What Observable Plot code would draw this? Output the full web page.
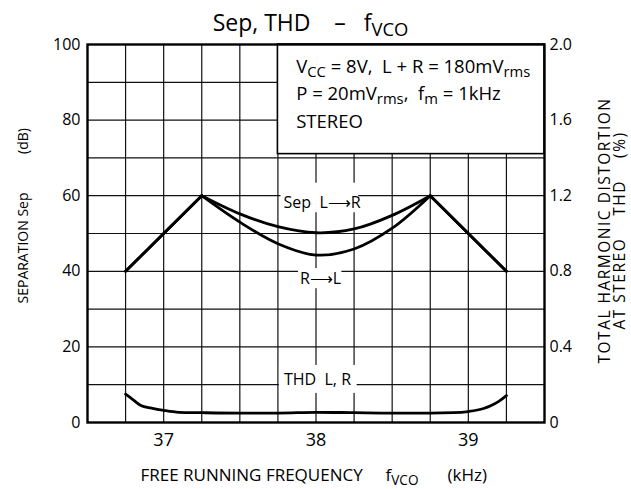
<!DOCTYPE html>
<html><head><meta charset="utf-8">
<script src="https://cdn.jsdelivr.net/npm/d3@7"></script>
<script src="https://cdn.jsdelivr.net/npm/@observablehq/plot@0.6"></script>
<style>
body{margin:0;background:#fff;}
#chart text{white-space:pre;}
</style></head><body><div id="chart"></div>
<script>
// ---- data ----
const sepFreq = [36.75, 37.0, 37.25, 37.5, 37.75, 38.0, 38.25, 38.5, 38.75, 39.0, 39.25];
const sepLR   = [40, 50, 60, 55.2, 51.8, 50.2, 51.2, 54.8, 60, 50, 40];
const sepRL   = [40, 50, 60, 53.0, 47.3, 44.3, 45.9, 51.4, 60, 50, 40];
const thdFreq = [36.75, 36.8, 36.85, 36.92, 37.0, 37.1, 37.25, 37.5, 37.75, 38.0, 38.25, 38.5, 38.75, 38.9, 39.0, 39.1, 39.15, 39.2, 39.25];
const thdPct  = [0.15, 0.12, 0.09, 0.076, 0.064, 0.054, 0.052, 0.05, 0.05, 0.054, 0.052, 0.05, 0.05, 0.052, 0.058, 0.074, 0.09, 0.112, 0.142];

const xGrid = [36.75, 37, 37.25, 37.5, 37.75, 38, 38.25, 38.5, 38.75, 39, 39.25];
const yGrid = [10, 20, 30, 40, 50, 60, 70, 80, 90];
const xTicks = [37, 38, 39];
const sepTicks = [0, 20, 40, 60, 80, 100];
const thdTickLabels = ["0", "0.4", "0.8", "1.2", "1.6", "2.0"];

const titleText = "Sep, THD    –   f_{VCO}";
const xLabelParts = ["FREE RUNNING FREQUENCY", "f_{VCO}", "(kHz)"];
const yLabelParts = ["SEPARATION Sep", "(dB)"];
const y2Label = ["TOTAL HARMONIC DISTORTION", "AT STEREO    THD    (%)"];
const boxLines = ["V_{CC} = 8V,  L + R = 180mV_{rms}", "P = 20mV_{rms},  f_{m} = 1kHz", "STEREO"];
const curveLabels = [
  {text: "Sep  L⟶R", x: 38.04, y: 58.2, bx1: 37.77, bx2: 38.28, by1: 55.5, by2: 63.3},
  {text: "R⟶L", x: 38.03, y: 38.0, bx1: 37.885, bx2: 38.17, by1: 35.4, by2: 40.7},
  {text: "THD  L, R", x: 38.01, y: 11.4, bx1: 37.76, bx2: 38.27, by1: 7.7, by2: 15.1}
];
const condBox = {x1: 37.75, x2: 39.5, y1: 71, y2: 100};

// ---- tables ----
const sepRows = [];
sepFreq.forEach((f, i) => {
  sepRows.push({f, v: sepLR[i], s: "LR"});
  sepRows.push({f, v: sepRL[i], s: "RL"});
});
const rampRows = [];
sepRows.forEach(r => { if (r.f <= 37.25) rampRows.push({...r, k: r.s + "L"}); if (r.f >= 38.75) rampRows.push({...r, k: r.s + "R"}); });
const midRows = sepRows.filter(r => r.f >= 37.25 && r.f <= 38.75);
const thdRows = thdFreq.map((f, i) => ({f, pct: thdPct[i]}));

const thdFmt = d => thdTickLabels[sepTicks.indexOf(d)];
const FONT = '"Open Sans", sans-serif';
const xLabelDx = [53, 298, 360];
const yLabelDy = [14.5, -92.5];

const plot = Plot.plot({
  width: 631, height: 489,
  marginLeft: 87, marginRight: 87, marginTop: 44, marginBottom: 67,
  x: {domain: [36.5, 39.5]},
  y: {domain: [0, 100]},
  style: {fontFamily: FONT, fontSize: "16px", color: "#000", background: "#fff", overflow: "visible"},
  marks: [
    Plot.ruleX(xGrid, {stroke: "#111", strokeWidth: 1.2}),
    Plot.ruleY(yGrid, {stroke: "#111", strokeWidth: 1.2}),
    Plot.rect([condBox], {x1: "x1", x2: "x2", y1: "y1", y2: "y2", fill: "white", stroke: "#000", strokeWidth: 1.6}),
    Plot.rect(curveLabels, {x1: "bx1", x2: "bx2", y1: "by1", y2: "by2", fill: "white"}),
    Plot.line(rampRows, {x: "f", y: "v", z: "k", stroke: "#000", strokeWidth: 2.8}),
    Plot.line(midRows, {x: "f", y: "v", z: "s", stroke: "#000", strokeWidth: 2.8, curve: "catmull-rom"}),
    Plot.line(thdRows, {x: "f", y: d => d.pct * 50, stroke: "#000", strokeWidth: 2.8, curve: "monotone-x"}),
    Plot.frame({stroke: "#000", strokeWidth: 2.4}),
    Plot.axisX({ticks: xTicks, tickSize: 0, tickPadding: 11, label: null, fontSize: 18, tickFormat: d => String(d)}),
    Plot.axisY({ticks: sepTicks, anchor: "left", tickSize: 0, tickPadding: 7, label: null, fontSize: 16}),
    Plot.axisY({ticks: sepTicks, anchor: "right", tickSize: 0, tickPadding: 5, label: null, fontSize: 16, tickFormat: thdFmt}),
    Plot.text(curveLabels, {x: "x", y: "y", text: "text", fontSize: 16, fill: "#000"}),
    ...boxLines.map((t, i) => Plot.text([t], {x: () => 37.87, frameAnchor: "top", textAnchor: "start", lineAnchor: "bottom", dy: 28 + i * 27.5, fontSize: 18.5, fill: "#000"})),
    Plot.text([titleText], {frameAnchor: "top", textAnchor: "middle", lineAnchor: "bottom", dx: -5.5, dy: -14, fontSize: 23, fill: "#000"}),
    ...xLabelParts.map((t, i) => Plot.text([t], {frameAnchor: "bottom-left", textAnchor: "start", lineAnchor: "bottom", dx: xLabelDx[i], dy: 58, fontSize: 17, fill: "#000"})),
    ...yLabelParts.map((t, i) => Plot.text([t], {frameAnchor: "left", textAnchor: "middle", rotate: -90, dx: -64, dy: yLabelDy[i], fontSize: 14, fill: "#000"})),
    Plot.text([y2Label.join("\n")], {frameAnchor: "right", textAnchor: "middle", rotate: -90, dx: 68, dy: -3, fontSize: 15.5, lineHeight: 1.0, fill: "#000"})
  ]
});

// turn _{..} markers into real subscripts
d3.select(plot).selectAll("text").each(function () {
  const s = this.textContent;
  if (!s.includes("_{") || this.querySelector("tspan")) return;
  const el = d3.select(this);
  el.text(null);
  let prevSub = false;
  for (const p of s.split(/(_\{[^}]*\})/)) {
    if (!p) continue;
    const m = p.match(/^_\{(.*)\}$/);
    if (m) { el.append("tspan").attr("dy", "0.3em").attr("font-size", "0.8em").text(m[1]); prevSub = true; }
    else { const t = el.append("tspan").text(p); if (prevSub) t.attr("dy", "-0.24em"); prevSub = false; }
  }
});
d3.select(plot).selectAll("text").filter(function () { return (this.textContent || "").startsWith("TOTAL") || (this.textContent || "").includes("AT STEREO"); }).style("letter-spacing", "1.5px");
document.getElementById("chart").appendChild(plot);
</script></body></html>
